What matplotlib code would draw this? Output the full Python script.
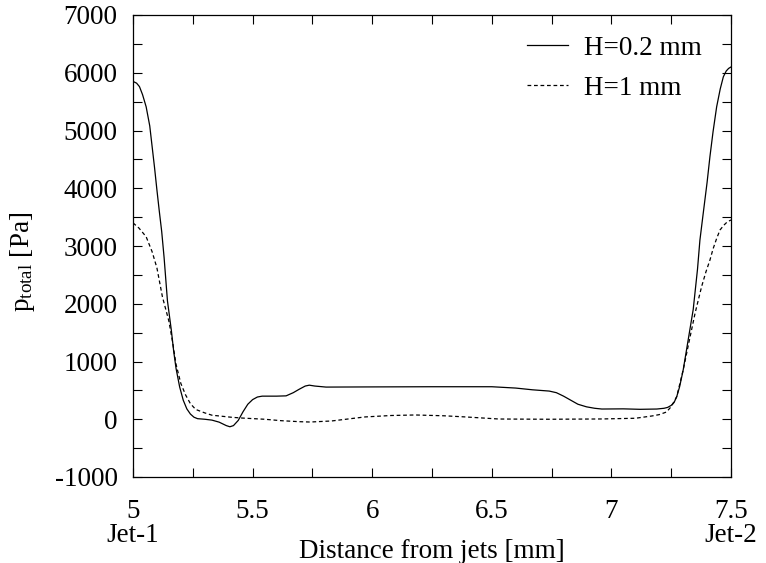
import numpy as np
import matplotlib.pyplot as plt
from matplotlib.ticker import MultipleLocator

# data
x_h02 = [5.00, 5.015, 5.027, 5.04, 5.055, 5.07, 5.08, 5.09, 5.10, 5.11, 5.12, 5.13, 5.144,
         5.16, 5.17, 5.18, 5.195, 5.21, 5.225, 5.24, 5.255, 5.27, 5.30, 5.33, 5.36, 5.39,
         5.405, 5.42, 5.44, 5.46, 5.48, 5.50, 5.52, 5.54, 5.60, 5.64, 5.67, 5.695, 5.72,
         5.737, 5.76, 5.807, 6.00, 6.25, 6.50, 6.60, 6.67, 6.74, 6.77, 6.80, 6.83, 6.86,
         6.896, 6.93, 6.96, 7.05, 7.12, 7.19, 7.22, 7.235, 7.25, 7.262, 7.273, 7.285,
         7.30, 7.32, 7.342, 7.36, 7.37, 7.384, 7.40, 7.412, 7.425, 7.44, 7.455, 7.468,
         7.48, 7.49, 7.50]
p_h02 = [5850, 5820, 5760, 5620, 5410, 5080, 4720, 4360, 3970, 3600, 3250, 2800, 2050,
         1550, 1180, 880, 560, 330, 180, 90, 35, 10, 0, -15, -50, -110,
         -130, -110, -20, 130, 260, 340, 385, 400, 400, 405, 460, 520, 575,
         590, 575, 557, 560, 563, 563, 540, 510, 488, 460, 400, 330, 260,
         215, 190, 177, 180, 172, 177, 190, 205, 240, 290, 390, 560,
         850, 1350, 1900, 2600, 3100, 3570, 4100, 4550, 4980, 5410, 5720, 5930,
         6030, 6075, 6100]

x_h1 = [5.00, 5.025, 5.055, 5.08, 5.10, 5.123, 5.15, 5.165, 5.18, 5.20, 5.22, 5.24,
        5.262, 5.30, 5.33, 5.415, 5.46, 5.55, 5.62, 5.695, 5.74, 5.83, 5.90, 5.97,
        6.08, 6.18, 6.30, 6.39, 6.53, 6.74, 6.96, 7.10, 7.17, 7.20, 7.23, 7.25,
        7.273, 7.30, 7.325, 7.35, 7.377, 7.395, 7.412, 7.425, 7.44, 7.454, 7.47,
        7.485, 7.50]
p_h1 = [3400, 3310, 3160, 2900, 2620, 2120, 1700, 1350, 950, 620, 420, 270,
        170, 110, 70, 33, 20, 0, -25, -42, -48, -30, 5, 40,
        65, 74, 60, 40, 4, 0, 5, 17, 57, 80, 125, 218,
        390, 853, 1350, 1840, 2295, 2550, 2757, 2950, 3130, 3277, 3360,
        3420, 3450]

x_ticks = [5, 5.5, 6, 6.5, 7, 7.5]
x_ticklabels = ['5\nJet-1', '5.5', '6', '6.5', '7', '7.5\nJet-2']

plt.rcParams['font.family'] = ['Liberation Serif', 'DejaVu Serif']
plt.rcParams['mathtext.fontset'] = 'custom'
plt.rcParams['mathtext.rm'] = 'Liberation Serif'
plt.rcParams['mathtext.it'] = 'Liberation Serif:italic'
plt.rcParams['axes.unicode_minus'] = False

fs = 19.5

fig = plt.figure(figsize=(7.66, 5.63), dpi=100)
ax = fig.add_axes([133 / 766, 1 - 477 / 563, 598 / 766, 462 / 563])

ax.plot(x_h02, p_h02, color='black', lw=0.9, label='H=0.2 mm')
ax.plot(x_h1, p_h1, color='black', lw=0.9, dashes=(3, 2.2), label='H=1 mm')

ax.set_xlim(5, 7.5)
ax.set_ylim(-1000, 7000)
ax.set_xticks(x_ticks)
ax.set_xticklabels(x_ticklabels, linespacing=0.95)
ax.xaxis.set_minor_locator(MultipleLocator(0.25))
ax.yaxis.set_major_locator(MultipleLocator(1000))
ax.yaxis.set_minor_locator(MultipleLocator(500))
ax.tick_params(which='both', direction='in', top=True, right=True,
               length=6.5, width=0.8, labelsize=fs)
ax.tick_params(axis='x', pad=16)
ax.tick_params(axis='y', pad=11)

for s in ax.spines.values():
    s.set_linewidth(0.9)

ax.set_xlabel('Distance from jets [mm]', fontsize=fs, va='center')
ax.xaxis.set_label_coords(0.5, (477 - 551) / 462)
ax.set_ylabel(r'p$_{\mathrm{total}}$ [Pa]', fontsize=fs, va='center')
ax.yaxis.set_label_coords((22 - 133) / 598, 0.465)

ax.legend(loc='upper right', frameon=False, fontsize=fs, handlelength=1.5,
          handletextpad=0.6, labelspacing=0.55, borderpad=0, borderaxespad=0,
          bbox_to_anchor=((702 - 133) / 598, 0.955))

fig.savefig('out.png', dpi=100)
